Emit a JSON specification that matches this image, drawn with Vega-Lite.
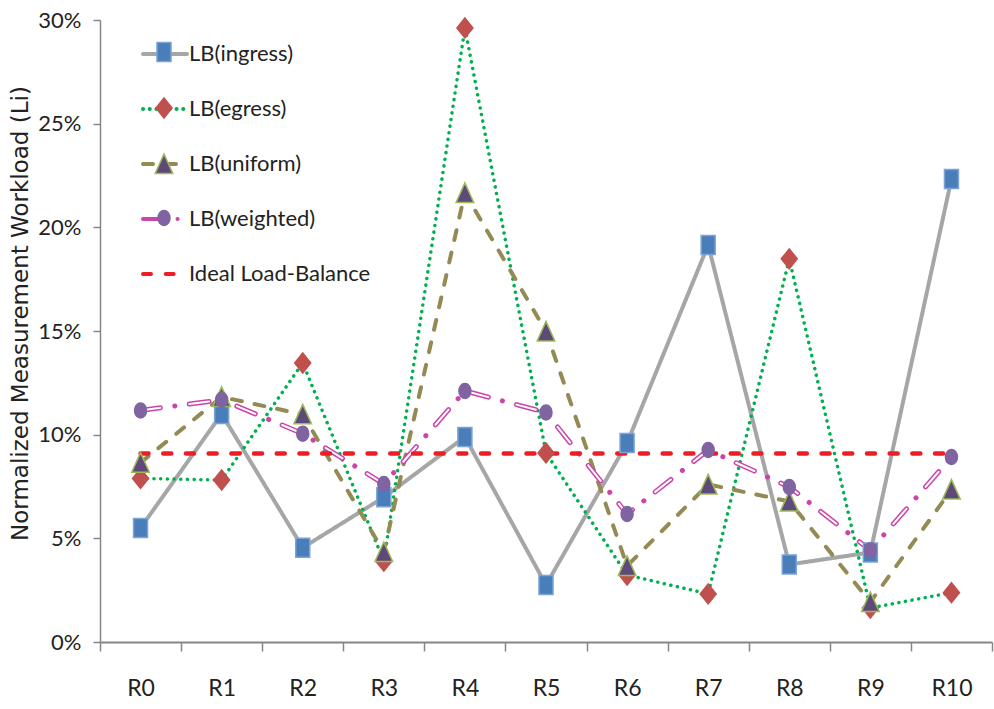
{
  "$schema": "https://vega.github.io/schema/vega-lite/v6.json",
  "width": 892,
  "height": 622,
  "autosize": "none",
  "padding": {"left": 100, "top": 20, "right": 2, "bottom": 67},
  "background": "white",
  "config": {
    "view": {"stroke": null},
    "font": "Lato, sans-serif"
  },
  "data": {
    "values": [
      {"r": "R0", "series": "LB(ingress)", "v": 0.055},
      {"r": "R1", "series": "LB(ingress)", "v": 0.1100},
      {"r": "R2", "series": "LB(ingress)", "v": 0.0455},
      {"r": "R3", "series": "LB(ingress)", "v": 0.0698},
      {"r": "R4", "series": "LB(ingress)", "v": 0.0989},
      {"r": "R5", "series": "LB(ingress)", "v": 0.0275},
      {"r": "R6", "series": "LB(ingress)", "v": 0.096},
      {"r": "R7", "series": "LB(ingress)", "v": 0.1915},
      {"r": "R8", "series": "LB(ingress)", "v": 0.0374},
      {"r": "R9", "series": "LB(ingress)", "v": 0.0432},
      {"r": "R10", "series": "LB(ingress)", "v": 0.2233},

      {"r": "R0", "series": "LB(egress)", "v": 0.0789},
      {"r": "R1", "series": "LB(egress)", "v": 0.0781},
      {"r": "R2", "series": "LB(egress)", "v": 0.1346},
      {"r": "R3", "series": "LB(egress)", "v": 0.039},
      {"r": "R4", "series": "LB(egress)", "v": 0.2962},
      {"r": "R5", "series": "LB(egress)", "v": 0.0912},
      {"r": "R6", "series": "LB(egress)", "v": 0.0323},
      {"r": "R7", "series": "LB(egress)", "v": 0.0232},
      {"r": "R8", "series": "LB(egress)", "v": 0.1848},
      {"r": "R9", "series": "LB(egress)", "v": 0.0164},
      {"r": "R10", "series": "LB(egress)", "v": 0.0238},

      {"r": "R0", "series": "LB(uniform)", "v": 0.0865},
      {"r": "R1", "series": "LB(uniform)", "v": 0.1182},
      {"r": "R2", "series": "LB(uniform)", "v": 0.1098},
      {"r": "R3", "series": "LB(uniform)", "v": 0.0434},
      {"r": "R4", "series": "LB(uniform)", "v": 0.2166},
      {"r": "R5", "series": "LB(uniform)", "v": 0.1498},
      {"r": "R6", "series": "LB(uniform)", "v": 0.0367},
      {"r": "R7", "series": "LB(uniform)", "v": 0.076},
      {"r": "R8", "series": "LB(uniform)", "v": 0.0678},
      {"r": "R9", "series": "LB(uniform)", "v": 0.0193},
      {"r": "R10", "series": "LB(uniform)", "v": 0.0735},

      {"r": "R0", "series": "LB(weighted)", "v": 0.1117},
      {"r": "R1", "series": "LB(weighted)", "v": 0.1168},
      {"r": "R2", "series": "LB(weighted)", "v": 0.1005},
      {"r": "R3", "series": "LB(weighted)", "v": 0.0762},
      {"r": "R4", "series": "LB(weighted)", "v": 0.1211},
      {"r": "R5", "series": "LB(weighted)", "v": 0.1107},
      {"r": "R6", "series": "LB(weighted)", "v": 0.0617},
      {"r": "R7", "series": "LB(weighted)", "v": 0.0926},
      {"r": "R8", "series": "LB(weighted)", "v": 0.0748},
      {"r": "R9", "series": "LB(weighted)", "v": 0.0442},
      {"r": "R10", "series": "LB(weighted)", "v": 0.0892},

      {"r": "R0", "series": "Ideal Load-Balance", "v": 0.0909},
      {"r": "R1", "series": "Ideal Load-Balance", "v": 0.0909},
      {"r": "R2", "series": "Ideal Load-Balance", "v": 0.0909},
      {"r": "R3", "series": "Ideal Load-Balance", "v": 0.0909},
      {"r": "R4", "series": "Ideal Load-Balance", "v": 0.0909},
      {"r": "R5", "series": "Ideal Load-Balance", "v": 0.0909},
      {"r": "R6", "series": "Ideal Load-Balance", "v": 0.0909},
      {"r": "R7", "series": "Ideal Load-Balance", "v": 0.0909},
      {"r": "R8", "series": "Ideal Load-Balance", "v": 0.0909},
      {"r": "R9", "series": "Ideal Load-Balance", "v": 0.0909},
      {"r": "R10", "series": "Ideal Load-Balance", "v": 0.0909}
    ]
  },
  "encoding": {
    "x": {
      "field": "r",
      "type": "nominal",
      "sort": ["R0", "R1", "R2", "R3", "R4", "R5", "R6", "R7", "R8", "R9", "R10"],
      "bandPosition": 0.5,
      "scale": {"type": "band", "paddingInner": 0, "paddingOuter": 0},
      "axis": {
        "title": null,
        "labelAngle": 0,
        "tickBand": "extent",
        "domainColor": "#868686",
        "domainWidth": 2,
        "tickColor": "#868686",
        "tickWidth": 1.5,
        "tickSize": 9,
        "labelFontSize": 23,
        "labelColor": "#222222",
        "labelPadding": 26
      }
    },
    "y": {
      "field": "v",
      "type": "quantitative",
      "scale": {"domain": [0, 0.3], "nice": false},
      "axis": {
        "title": "Normalized Measurement Workload (Li)",
        "values": [0, 0.05, 0.1, 0.15, 0.2, 0.25, 0.3],
        "format": ".0%",
        "grid": false,
        "domainColor": "#868686",
        "domainWidth": 1.5,
        "tickColor": "#868686",
        "tickWidth": 1.5,
        "tickSize": 7,
        "labelFontSize": 22,
        "labelColor": "#222222",
        "labelPadding": 12,
        "titleFont": "DejaVu Sans, sans-serif",
        "titleFontSize": 23,
        "titleFontWeight": "normal",
        "titleColor": "#222222",
        "titleAngle": 270,
        "titleX": -80,
        "titleY": 293,
        "titleBaseline": "middle",
        "titleAlign": "center"
      }
    }
  },
  "layer": [
    {
      "transform": [{"filter": "datum.series === 'LB(ingress)'"}],
      "mark": {"type": "line", "strokeWidth": 4, "strokeCap": "round", "strokeJoin": "round"},
      "encoding": {
        "color": {
          "field": "series",
          "type": "nominal",
          "scale": {
            "domain": ["LB(ingress)", "LB(egress)", "LB(uniform)", "LB(weighted)", "Ideal Load-Balance"],
            "range": ["#A6A6A6", "#00B050", "#948A54", "#CC44AA", "#EE1C25"]
          },
          "legend": {
            "title": null,
            "orient": "none",
            "legendX": 41,
            "legendY": 10,
            "padding": 0,
            "symbolType": "stroke",
            "symbolSize": 1936,
            "symbolStrokeWidth": 4,
            "labelFontSize": 22,
            "labelColor": "#222222",
            "labelOffset": 0,
            "labelLimit": 400,
            "rowPadding": 20,
            "encode": {"symbols": {"update": {"strokeCap": {"value": "round"}}}}
          }
        },
        "strokeDash": {
          "field": "series",
          "type": "nominal",
          "scale": {
            "domain": ["LB(ingress)", "LB(egress)", "LB(uniform)", "LB(weighted)", "Ideal Load-Balance"],
            "range": [[1, 0], [0.1, 6.6], [10, 13], [20, 14.5, 0.1, 14.5], [8, 14.7]]
          },
          "legend": {
            "title": null,
            "orient": "none",
            "legendX": 41,
            "legendY": 10,
            "padding": 0,
            "symbolType": "stroke",
            "symbolSize": 1936,
            "symbolStrokeWidth": 4,
            "labelFontSize": 22,
            "labelColor": "#222222",
            "labelOffset": 0,
            "labelLimit": 400,
            "rowPadding": 20,
            "encode": {"symbols": {"update": {"strokeCap": {"value": "round"}}}}
          }
        }
      }
    },
    {
      "transform": [{"filter": "datum.series === 'LB(egress)'"}],
      "mark": {"type": "line", "strokeWidth": 3.5, "strokeCap": "round", "strokeJoin": "round"},
      "encoding": {
        "color": {"field": "series", "type": "nominal"},
        "strokeDash": {"field": "series", "type": "nominal"}
      }
    },
    {
      "transform": [{"filter": "datum.series === 'LB(uniform)'"}],
      "mark": {"type": "line", "strokeWidth": 4, "strokeCap": "round", "strokeJoin": "round"},
      "encoding": {
        "color": {"field": "series", "type": "nominal"},
        "strokeDash": {"field": "series", "type": "nominal"}
      }
    },
    {
      "transform": [{"filter": "datum.series === 'LB(weighted)'"}],
      "mark": {"type": "line", "strokeWidth": 5, "strokeCap": "round", "strokeJoin": "round"},
      "encoding": {
        "color": {"field": "series", "type": "nominal"},
        "strokeDash": {"field": "series", "type": "nominal"}
      }
    },
    {
      "transform": [{"filter": "datum.series === 'LB(weighted)'"}],
      "mark": {"type": "line", "stroke": "white", "strokeWidth": 2, "strokeCap": "round", "strokeJoin": "round", "strokeDash": [20, 29.1]},
      "encoding": {}
    },
    {
      "transform": [{"filter": "datum.series === 'Ideal Load-Balance'"}],
      "mark": {"type": "line", "strokeWidth": 4.5, "strokeCap": "round"},
      "encoding": {
        "color": {"field": "series", "type": "nominal"},
        "strokeDash": {"field": "series", "type": "nominal"}
      }
    },
    {
      "transform": [{"filter": "datum.series !== 'Ideal Load-Balance'"}],
      "mark": {"type": "point", "filled": true, "opacity": 1, "size": 400, "strokeWidth": 1.5},
      "encoding": {
        "fill": {
          "field": "series",
          "type": "nominal",
          "scale": {
            "domain": ["LB(ingress)", "LB(egress)", "LB(uniform)", "LB(weighted)"],
            "range": ["#4A7EBB", "#C0504D", "#5F497A", "#8064A2"]
          },
          "legend": {
            "title": null,
            "orient": "none",
            "legendX": 53,
            "legendY": 21,
            "padding": 0,
            "symbolSize": 400,
            "symbolStrokeWidth": 1.5,
            "labelExpr": "''",
            "rowPadding": 30
          }
        },
        "stroke": {
          "field": "series",
          "type": "nominal",
          "scale": {
            "domain": ["LB(ingress)", "LB(egress)", "LB(uniform)", "LB(weighted)"],
            "range": ["#7BA3D6", "#C0504D", "#9BBB59", "#8064A2"]
          },
          "legend": {
            "title": null,
            "orient": "none",
            "legendX": 53,
            "legendY": 21,
            "padding": 0,
            "symbolSize": 400,
            "symbolStrokeWidth": 1.5,
            "labelExpr": "''",
            "rowPadding": 30
          }
        },
        "shape": {
          "field": "series",
          "type": "nominal",
          "scale": {
            "domain": ["LB(ingress)", "LB(egress)", "LB(uniform)", "LB(weighted)"],
            "range": [
              "M-0.7,-0.95H0.7V0.95H-0.7Z",
              "M0,-1L0.8,0L0,1L-0.8,0Z",
              "M0,-1L0.88,0.95L-0.88,0.95Z",
              "M0,-0.75C0.331,-0.75 0.6,-0.414 0.6,0C0.6,0.414 0.331,0.75 0,0.75C-0.331,0.75 -0.6,0.414 -0.6,0C-0.6,-0.414 -0.331,-0.75 0,-0.75Z"
            ]
          },
          "legend": {
            "title": null,
            "orient": "none",
            "legendX": 53,
            "legendY": 21,
            "padding": 0,
            "symbolSize": 400,
            "symbolStrokeWidth": 1.5,
            "labelExpr": "''",
            "rowPadding": 30
          }
        }
      }
    }
  ]
}
